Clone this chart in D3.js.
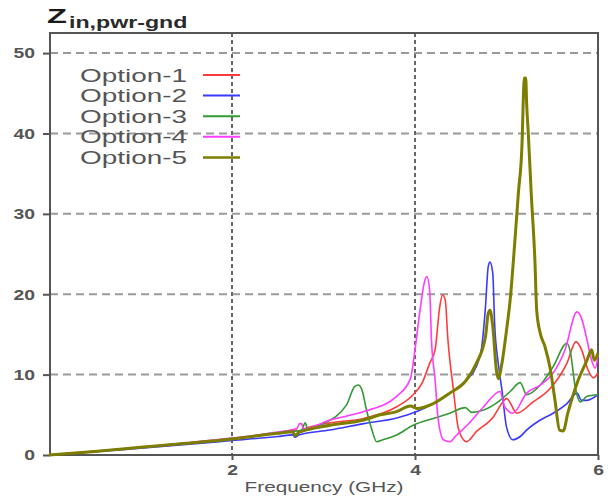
<!DOCTYPE html>
<html>
<head>
<meta charset="utf-8">
<script src="https://cdn.jsdelivr.net/npm/d3@7"></script>
<style>
  html, body { margin: 0; padding: 0; background: #fff; }
  svg { display: block; }
</style>
</head>
<body>
<svg id="chart" width="610" height="496"></svg>
<script>
// Input impedance, power-to-ground, versus frequency for five options.
// Each series: [frequency in GHz, impedance]
const option1 = [[0,0],[0.5,0.45],[1,0.95],[1.5,1.5],[2,2.05],[2.5,2.8],[2.7,3.1],[2.74,2.8],[2.78,3.2],[3.07,4.0],[3.44,4.55],[3.8,6.0],[3.98,7.5],[4.08,9.0],[4.16,11.4],[4.22,13.1],[4.27,18.4],[4.30,19.9],[4.33,19.3],[4.36,14.3],[4.42,8.1],[4.47,3.5],[4.53,1.9],[4.56,1.65],[4.67,2.9],[4.86,4.8],[4.96,6.6],[5.0,7.05],[5.04,6.5],[5.11,5.2],[5.29,6.6],[5.48,8.3],[5.66,11.4],[5.76,14.1],[5.82,13.1],[5.89,10.6],[5.95,9.6],[6.0,10.2]];
const option2 = [[0,0],[0.5,0.4],[1,0.85],[1.5,1.3],[2,1.8],[2.5,2.3],[2.66,2.5],[2.69,2.2],[2.73,2.5],[3.07,3.1],[3.44,3.9],[3.8,4.6],[4.02,5.4],[4.2,6.4],[4.38,7.7],[4.56,9.3],[4.67,11.0],[4.73,13.5],[4.77,18.4],[4.80,23.4],[4.82,24.0],[4.85,22.6],[4.87,16.4],[4.91,11.4],[4.95,8.1],[5.0,3.5],[5.07,1.9],[5.15,2.3],[5.22,3.1],[5.37,4.35],[5.51,5.2],[5.66,6.4],[5.77,7.7],[5.82,6.8],[5.88,6.8],[6.0,7.5]];
const option3 = [[0,0],[0.5,0.45],[1,0.95],[1.5,1.45],[2,2.0],[2.5,2.7],[2.76,3.1],[2.8,4.0],[2.83,3.1],[2.96,3.7],[3.25,6.2],[3.34,8.5],[3.38,8.7],[3.42,8.1],[3.47,5.6],[3.53,3.1],[3.58,1.65],[3.65,1.9],[3.80,2.5],[3.98,3.7],[4.2,4.55],[4.38,5.2],[4.55,5.9],[4.62,5.3],[4.75,5.6],[4.93,6.8],[5.04,7.9],[5.15,9.0],[5.22,7.5],[5.37,8.7],[5.51,11.0],[5.66,13.9],[5.70,12.7],[5.75,8.5],[5.81,6.6],[5.88,7.3],[6.0,7.5]];
const option4 = [[0,0],[0.5,0.45],[1,0.95],[1.5,1.5],[2,2.1],[2.5,2.85],[2.71,3.3],[2.74,3.9],[2.76,3.9],[2.78,3.2],[3.07,4.35],[3.44,5.4],[3.8,7.3],[3.95,9.5],[4.0,13.1],[4.05,17.6],[4.11,21.8],[4.13,22.2],[4.16,20.5],[4.18,14.3],[4.22,9.3],[4.25,4.8],[4.31,1.9],[4.38,1.65],[4.44,2.3],[4.57,3.7],[4.75,6.0],[4.93,7.9],[4.98,6.0],[5.07,5.2],[5.22,7.7],[5.37,8.7],[5.51,10.2],[5.64,13.1],[5.77,17.8],[5.82,17.0],[5.88,14.3],[5.93,11.8],[5.97,10.8],[6.0,12.4]];
const option5 = [[0,0],[0.5,0.45],[1,0.95],[1.5,1.45],[2,2.0],[2.5,2.7],[2.66,2.9],[2.69,2.4],[2.73,2.8],[3.07,3.7],[3.44,4.35],[3.62,5.0],[3.80,5.4],[3.95,6.1],[4.02,5.8],[4.2,6.4],[4.38,7.7],[4.56,9.3],[4.67,11.4],[4.77,14.7],[4.80,17.6],[4.82,18.0],[4.85,16.0],[4.89,10.5],[4.91,9.5],[4.95,11.4],[5.0,15.5],[5.04,19.3],[5.09,26.4],[5.13,32.6],[5.17,38.8],[5.18,42.9],[5.195,46.9],[5.21,46.9],[5.22,43.8],[5.24,39.6],[5.27,32.6],[5.31,24.3],[5.33,18.0],[5.37,15.1],[5.42,13.5],[5.48,10.6],[5.53,6.8],[5.58,3.1],[5.62,3.0],[5.67,5.2],[5.77,8.9],[5.88,11.8],[5.93,13.1],[5.96,11.8],[6.0,12.7]];

const seriesNames = ["Option-1", "Option-2", "Option-3", "Option-4", "Option-5"];
const seriesData = [option1, option2, option3, option4, option5];
const seriesColors = ["#ff3b3b", "#3a3aff", "#339933", "#ff3cff", "#7d7d00"];
const seriesWidths = [1.6, 1.6, 1.6, 1.6, 3];

const xTicks = [2, 4, 6];
const yTicks = [0, 10, 20, 30, 40, 50];
const xDomain = [0, 6];
const yDomain = [0, 52.5];
const xTitle = "Frequency (GHz)";

const svg = d3.select("#chart");
const FONT = "'Liberation Sans', Arial, sans-serif";

const plot = { left: 50, right: 598, top: 33, bottom: 455 };
const x = d3.scaleLinear().domain(xDomain).range([plot.left - 1, plot.right]);
const y = d3.scaleLinear().domain(yDomain).range([plot.bottom, plot.top]);

svg.append("rect").attr("width", 610).attr("height", 496).attr("fill", "#fff");

// horizontal grid
svg.append("g").selectAll("line")
  .data(yTicks.filter(d => d > 0))
  .join("line")
  .attr("x1", plot.left).attr("x2", plot.right)
  .attr("y1", d => y(d)).attr("y2", d => y(d))
  .attr("stroke", "#9a9a9a").attr("stroke-width", 2)
  .attr("stroke-dasharray", "8,5");

// vertical grid
svg.append("g").selectAll("line")
  .data(xTicks.filter(d => d < xDomain[1]))
  .join("line")
  .attr("x1", d => x(d)).attr("x2", d => x(d))
  .attr("y1", plot.top).attr("y2", plot.bottom)
  .attr("stroke", "#666").attr("stroke-width", 2)
  .attr("stroke-dasharray", "4,3");

// axes
const yAxis = d3.axisLeft(y).tickValues(yTicks).tickSize(7).tickFormat(d3.format("d"));
const gy = svg.append("g").attr("transform", `translate(${plot.left},0)`).call(yAxis);
gy.select(".domain").remove();
gy.selectAll(".tick line").attr("stroke", "#555").attr("stroke-width", 2);
gy.selectAll(".tick text")
  .attr("font-family", FONT).attr("font-size", 14).attr("font-weight", "bold")
  .attr("fill", "#555").attr("x", -15 / 1.38).attr("dy", "0.34em")
  .attr("transform", "scale(1.38,1)");

const xAxis = d3.axisBottom(x).tickValues(xTicks).tickSize(5).tickFormat(d3.format("d"));
const gx = svg.append("g").attr("transform", `translate(0,${plot.bottom})`).call(xAxis);
gx.select(".domain").remove();
gx.selectAll(".tick line").attr("stroke", "#555").attr("stroke-width", 2);
gx.selectAll(".tick text")
  .attr("font-family", FONT).attr("font-size", 14).attr("font-weight", "bold")
  .attr("fill", "#555").attr("y", 20).attr("dy", 0)
  .attr("transform", "scale(1.38,1)");

// frame
svg.append("rect")
  .attr("x", plot.left).attr("y", plot.top)
  .attr("width", plot.right - plot.left).attr("height", plot.bottom - plot.top)
  .attr("fill", "none").attr("stroke", "#555").attr("stroke-width", 2);

// curves
const line = d3.line()
  .x(d => x(d[0])).y(d => y(d[1]))
  .curve(d3.curveMonotoneX);

const curves = svg.append("g");
seriesData.forEach((data, i) => {
  curves.append("path")
    .datum(data)
    .attr("d", line)
    .attr("fill", "none")
    .attr("stroke", seriesColors[i])
    .attr("stroke-width", seriesWidths[i])
    .attr("stroke-linejoin", "round");
});

// legend
const legend = svg.append("g");
seriesNames.forEach((name, i) => {
  const ly = 75 + i * 20.6;
  legend.append("text")
    .attr("transform", `translate(80,${ly + 6.5}) scale(1.55,1)`)
    .attr("font-family", FONT).attr("font-size", 18)
    .attr("fill", "#555")
    .text(name);
  legend.append("line")
    .attr("x1", 203).attr("x2", 240)
    .attr("y1", ly).attr("y2", ly)
    .attr("stroke", seriesColors[i])
    .attr("stroke-width", i === 4 ? 2.5 : 2);
});

// title: Z with subscript
svg.append("text")
  .attr("transform", "translate(47,23) scale(1.55,1)")
  .attr("font-family", FONT).attr("font-size", 21).attr("font-weight", "bold")
  .attr("fill", "#1a1a1a").text("Z");
svg.append("text")
  .attr("transform", "translate(69,28) scale(1.45,1)")
  .attr("font-family", FONT).attr("font-size", 16).attr("font-weight", "bold")
  .attr("fill", "#2a2a2a").text("in,pwr-gnd");

// x-axis title
svg.append("text")
  .attr("transform", `translate(${(x(0) + x(6)) / 2 + 0.5},492) scale(1.48,1)`)
  .attr("text-anchor", "middle")
  .attr("font-family", FONT).attr("font-size", 14)
  .attr("fill", "#555").text(xTitle);
</script>
</body>
</html>
